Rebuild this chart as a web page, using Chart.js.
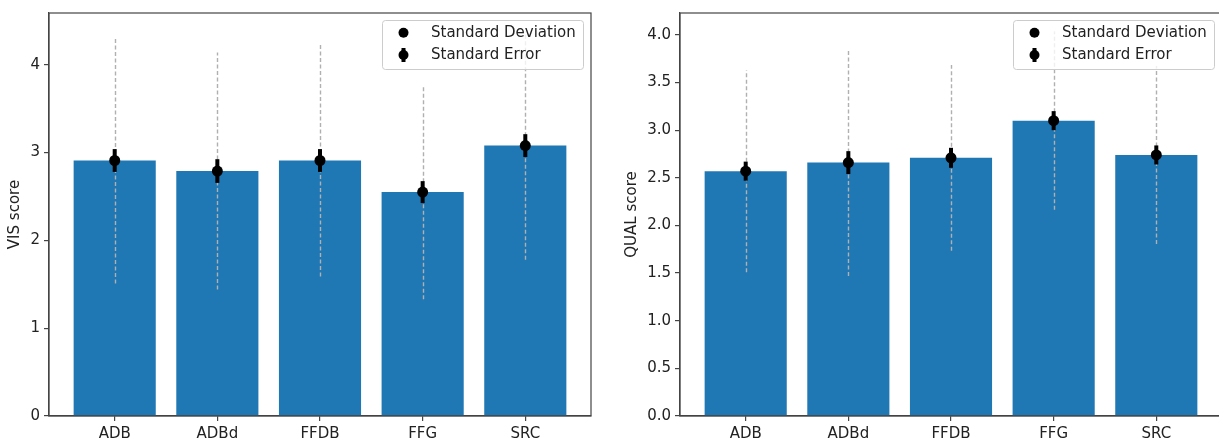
<!DOCTYPE html>
<html>
<head>
<meta charset="utf-8">
<script src="https://cdn.jsdelivr.net/npm/chart.js@4"></script>
<style>
  html, body { margin: 0; padding: 0; background: #fff; overflow: hidden; }
  #wrap { position: relative; width: 1219px; height: 441px; overflow: hidden; }
  .panel { position: absolute; top: 0; }
</style>
</head>
<body>
<div id="wrap">
  <div class="panel" style="left:0"><canvas id="visChart" width="610" height="441"></canvas></div>
  <div class="panel" style="left:610px"><canvas id="qualChart" width="614" height="441"></canvas></div>
</div>
<script>
// Data
const categories = ['ADB', 'ADBd', 'FFDB', 'FFG', 'SRC'];

const visMean = [2.91, 2.79, 2.91, 2.55, 3.08];
const visSd   = [1.40, 1.35, 1.32, 1.22, 1.30];
const visSe   = [0.13, 0.135, 0.13, 0.125, 0.13];

const qualMean = [2.57, 2.66, 2.71, 3.10, 2.74];
const qualSd   = [1.06, 1.19, 0.975, 0.935, 0.935];
const qualSe   = [0.10, 0.12, 0.105, 0.10, 0.10];

const visTicks  = [0, 1, 2, 3, 4];
const qualTicks = [0, 0.5, 1, 1.5, 2, 2.5, 3, 3.5, 4];
const visYMax  = 4.59;
const qualYMax = 4.23;

const legendLabels = ['Standard Deviation', 'Standard Error'];

const FONT = 'DejaVu Sans';
const TEXT = '#222';
const SPINE = '#444';
const BLUE = '#1f77b4';

// error bars + box + legend
const errorBarPlugin = {
  id: 'errorBars',
  afterDatasetsDraw(chart) {
    const { ctx, scales: { x, y } } = chart;
    const o = chart.options.plugins.errorBars;
    ctx.save();
    // standard deviation: dashed gray
    ctx.strokeStyle = '#b0b0b0';
    ctx.lineWidth = 1.4;
    ctx.setLineDash([4, 2.5]);
    o.mean.forEach((m, i) => {
      const px = Math.round(x.getPixelForValue(i)) + 0.5;
      ctx.beginPath();
      ctx.moveTo(px, y.getPixelForValue(m - o.sd[i]));
      ctx.lineTo(px, y.getPixelForValue(m + o.sd[i]));
      ctx.stroke();
    });
    // standard error: thick black + marker
    ctx.setLineDash([]);
    ctx.strokeStyle = '#000';
    ctx.fillStyle = '#000';
    ctx.lineWidth = 4;
    o.mean.forEach((m, i) => {
      const px = x.getPixelForValue(i);
      ctx.beginPath();
      ctx.moveTo(px, y.getPixelForValue(m - o.se[i]));
      ctx.lineTo(px, y.getPixelForValue(m + o.se[i]));
      ctx.stroke();
      ctx.beginPath();
      ctx.arc(px, y.getPixelForValue(m), 5.5, 0, Math.PI * 2);
      ctx.fill();
    });
    ctx.restore();
  },
  afterDraw(chart) {
    const { ctx, chartArea: a } = chart;
    ctx.save();
    // full axes box
    ctx.strokeStyle = SPINE;
    ctx.lineWidth = 1.2;
    ctx.strokeRect(a.left, a.top, a.right - a.left, a.bottom - a.top);

    // legend
    const bw = 201, bh = 49;
    const bx = a.right - 8 - bw, by = a.top + 7;
    ctx.beginPath();
    ctx.roundRect(bx + 0.5, by + 0.5, bw, bh, 3);
    ctx.fillStyle = 'rgba(255,255,255,0.8)';
    ctx.fill();
    ctx.strokeStyle = '#cccccc';
    ctx.lineWidth = 1;
    ctx.stroke();

    const mx = bx + 21.5;
    const rows = [by + 12.7, by + 35];
    ctx.fillStyle = '#000';
    ctx.strokeStyle = '#000';
    ctx.beginPath();
    ctx.arc(mx, rows[0], 5, 0, Math.PI * 2);
    ctx.fill();
    ctx.lineWidth = 4;
    ctx.beginPath();
    ctx.moveTo(mx, rows[1] - 7);
    ctx.lineTo(mx, rows[1] + 7);
    ctx.stroke();
    ctx.beginPath();
    ctx.arc(mx, rows[1], 5, 0, Math.PI * 2);
    ctx.fill();

    ctx.fillStyle = TEXT;
    ctx.font = '15px "' + FONT + '"';
    ctx.textBaseline = 'middle';
    ctx.textAlign = 'left';
    legendLabels.forEach((t, i) => ctx.fillText(t, bx + 49, rows[i]));
    ctx.restore();
  }
};

function makeChart(id, mean, sd, se, yTicks, yMax, yTitle, opts) {
  new Chart(document.getElementById(id), {
    type: 'bar',
    data: {
      datasets: [{
        data: mean.map((v, i) => ({ x: i, y: v })),
        backgroundColor: BLUE,
        borderWidth: 0,
        barPercentage: 0.8,
        categoryPercentage: 1.0
      }]
    },
    options: {
      responsive: false,
      animation: false,
      events: [],
      layout: { padding: { top: 13, right: opts.padRight, left: 0, bottom: 0 } },
      plugins: {
        legend: { display: false },
        tooltip: { enabled: false },
        errorBars: { mean: mean, sd: sd, se: se }
      },
      scales: {
        x: {
          type: 'linear',
          min: -0.64,
          max: 4.64,
          offset: false,
          afterBuildTicks: s => { s.ticks = categories.map((c, i) => ({ value: i })); },
          afterFit: s => { s.height = 25; },
          ticks: {
            callback: v => categories[v],
            color: TEXT,
            font: { family: FONT, size: 15 },
            padding: 4,
            maxRotation: 0,
            autoSkip: false
          },
          grid: { offset: false, drawOnChartArea: false, drawTicks: true, tickLength: 5, color: SPINE, lineWidth: 1.2 },
          border: { display: true, color: SPINE, width: 1.2 }
        },
        y: {
          min: 0,
          max: yMax,
          afterBuildTicks: s => { s.ticks = yTicks.map(v => ({ value: v })); },
          afterFit: s => { s.width = opts.yWidth; },
          ticks: {
            callback: v => opts.fmt(v),
            color: TEXT,
            font: { family: FONT, size: 15 },
            padding: 4
          },
          title: {
            display: true,
            text: yTitle,
            color: TEXT,
            font: { family: FONT, size: 15 },
            padding: { top: opts.titlePad, bottom: 0 }
          },
          grid: { drawOnChartArea: false, drawTicks: true, tickLength: 5, color: SPINE, lineWidth: 1.2 },
          border: { display: true, color: SPINE, width: 1.2 }
        }
      }
    },
    plugins: [errorBarPlugin]
  });
}

makeChart('visChart', visMean, visSd, visSe, visTicks, visYMax, 'VIS score',
  { padRight: 19, yWidth: 49, titlePad: 6, fmt: v => String(v) });
makeChart('qualChart', qualMean, qualSd, qualSe, qualTicks, qualYMax, 'QUAL score',
  { padRight: 2, yWidth: 70, titlePad: 13, fmt: v => v.toFixed(1) });
</script>
</body>
</html>
